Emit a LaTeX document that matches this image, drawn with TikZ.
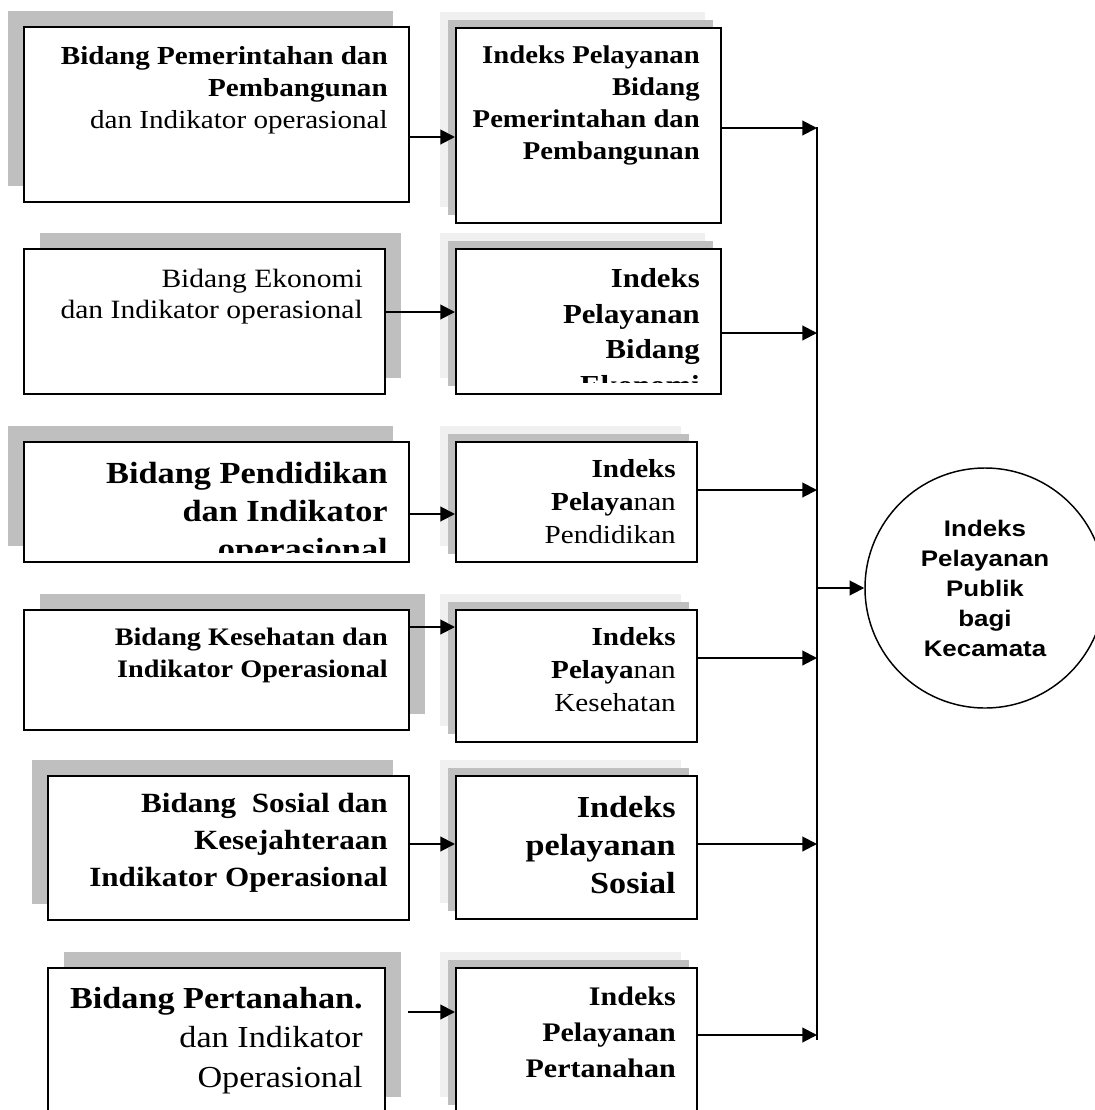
\documentclass[tikz,border=0pt]{standalone}
\usepackage{fontspec}
\setmainfont{Liberation Serif}[FakeStretch=1.12]
\newfontfamily\serifst{Liberation Serif}[FakeStretch=1.12]
\newfontfamily\circfont{Liberation Sans}[FakeStretch=1.15]
\usetikzlibrary{arrows.meta,fit}
\definecolor{shdark}{RGB}{191,191,191}
\definecolor{shlight}{RGB}{240,240,240}
\tikzset{
  box/.style={draw, fill=white, line width=1.5pt, inner sep=0pt, rectangle},
  lt/.style={inner sep=0pt, anchor=base east},
  arr/.style={line width=1.5pt, -{Triangle[length=11pt,width=11pt]}},
  busline/.style={line width=1.5pt},
}
\newcommand{\fsz}[2]{\serifst\fontsize{#1}{#2}\selectfont}
\newcommand{\rlines}[1]{\begin{tabular}[b]{@{}r@{}}#1\end{tabular}}
\begin{document}
\begin{tikzpicture}[x=0.75pt,y=-0.75pt]
\useasboundingbox (0,0) rectangle (1095,1110);
\clip (0,0) rectangle (1095,1110);
% ---------- shadows ----------
\fill[shdark] (8,11) rectangle (393,186);
\fill[shlight] (440,12) rectangle (705,207);
\fill[shdark] (448,20) rectangle (713,215);

\fill[shdark] (40,233) rectangle (401,378);
\fill[shlight] (440,233) rectangle (705,378);
\fill[shdark] (448,241) rectangle (713,386);

\fill[shdark] (8,426) rectangle (393,546);
\fill[shlight] (440,426) rectangle (681,546);
\fill[shdark] (448,434) rectangle (689,554);

\fill[shdark] (40,594) rectangle (425,714);
\fill[shlight] (440,594) rectangle (681,726);
\fill[shdark] (448,602) rectangle (689,734);

\fill[shdark] (32,760) rectangle (393,904);
\fill[shlight] (440,760) rectangle (681,903);
\fill[shdark] (448,768) rectangle (689,911);

\fill[shdark] (64,952) rectangle (401,1097);
\fill[shlight] (440,952) rectangle (681,1097);
\fill[shdark] (448,960) rectangle (689,1105);
% ---------- boxes ----------
\node[box, fit={(24,27) (409,202)}] (l1) {};
\node[box, fit={(456,28) (721,223)}] (r1) {};
\node[box, fit={(24,249) (385,394)}] (l2) {};
\node[box, fit={(456,249) (721,394)}] (r2) {};
\node[box, fit={(24,442) (409,562)}] (l3) {};
\node[box, fit={(456,442) (697,562)}] (r3) {};
\node[box, fit={(24,610) (409,730)}] (l4) {};
\node[box, fit={(456,610) (697,742)}] (r4) {};
\node[box, fit={(48,776) (409,920)}] (l5) {};
\node[box, fit={(456,776) (697,919)}] (r5) {};
\node[box, fit={(48,968) (385,1113)}] (l6) {};
\node[box, fit={(456,968) (697,1113)}] (r6) {};
% ---------- texts (anchored at the baseline of the last line) ----------
\node[lt, font=\fsz{19.5pt}{24pt}] (tl1) at (388,128)
  {\rlines{\textbf{Bidang Pemerintahan dan}\\\textbf{Pembangunan}\\dan Indikator operasional}};
\node[lt, font=\fsz{19.2pt}{24pt}] (tr1) at (700,159)
  {\rlines{\textbf{Indeks Pelayanan}\\\textbf{Bidang}\\\textbf{Pemerintahan dan}\\\textbf{Pembangunan}}};
\node[lt, font=\fsz{19.8pt}{23.25pt}] (tl2) at (363,318)
  {\rlines{Bidang Ekonomi\\dan Indikator operasional}};
\begin{scope}
\clip (456,249) rectangle (721,382);
\node[lt, font=\fsz{20.6pt}{26.6pt}] (tr2) at (700,394)
  {\rlines{\textbf{Indeks}\\\textbf{Pelayanan}\\\textbf{Bidang}\\\textbf{Ekonomi}}};
\end{scope}
\begin{scope}
\clip (24,442) rectangle (409,552);
\node[lt, font=\fsz{23pt}{28.5pt}] (tl3) at (388,559)
  {\rlines{\textbf{Bidang Pendidikan}\\\textbf{dan Indikator}\\\textbf{operasional}}};
\end{scope}
\node[lt, font=\fsz{19.5pt}{24.4pt}] (tr3) at (676,543)
  {\rlines{\textbf{Indeks}\\\textbf{Pelaya}nan\\Pendidikan}};
\node[lt, font=\fsz{18.9pt}{24pt}] (tl4) at (388,677)
  {\rlines{\textbf{Bidang Kesehatan dan}\\\textbf{Indikator Operasional}}};
\node[lt, font=\fsz{19.5pt}{24.4pt}] (tr4) at (676,711)
  {\rlines{\textbf{Indeks}\\\textbf{Pelaya}nan\\Kesehatan}};
\node[lt, font=\fsz{20.85pt}{27.4pt}] (tl5) at (388,886)
  {\rlines{\textbf{Bidang\ \ Sosial dan}\\\textbf{Kesejahteraan}\\\textbf{Indikator Operasional}}};
\node[lt, font=\fsz{22.9pt}{28.5pt}] (tr5) at (676,893)
  {\rlines{\textbf{Indeks}\\\textbf{pelayanan}\\\textbf{Sosial}}};
\node[lt, font=\fsz{22.9pt}{29.6pt}] (tl6) at (363,1087)
  {\rlines{\textbf{Bidang Pertanahan.}\\dan Indikator\\Operasional}};
\node[lt, font=\fsz{20.1pt}{27pt}] (tr6) at (676,1077)
  {\rlines{\textbf{Indeks}\\\textbf{Pelayanan}\\\textbf{Pertanahan}}};
% ---------- circle ----------
\node[draw, circle, line width=1.1pt, minimum size=180pt, inner sep=0pt, align=center,
      font=\circfont\bfseries\fontsize{16.9pt}{22.5pt}\selectfont] (circ) at (985,588)
  {Indeks\\Pelayanan\\Publik\\bagi\\Kecamata};
% ---------- bus ----------
\coordinate (btop) at (817,127);
\coordinate (bbot) at (817,1040);
\coordinate (b1) at (817,128);
\coordinate (b2) at (817,333);
\coordinate (b3) at (817,490);
\coordinate (b4) at (817,658);
\coordinate (b5) at (817,844);
\coordinate (b6) at (817,1035);
\coordinate (bm) at (817,588);
\coordinate (s6) at (408,1012);
\draw[busline] (btop) -- (bbot);
% ---------- arrows ----------
\draw[arr] (l1.east |- 0,137) -- (r1.west |- 0,137);
\draw[arr] (l2.east |- 0,312) -- (r2.west |- 0,312);
\draw[arr] (l3.east |- 0,514) -- (r3.west |- 0,514);
\draw[arr] (l4.east |- 0,627) -- (r4.west |- 0,627);
\draw[arr] (l5.east |- 0,844) -- (r5.west |- 0,844);
\draw[arr] (s6) -- (r6.west |- s6);
\draw[arr] (r1.east |- b1) -- (b1);
\draw[arr] (r2.east |- b2) -- (b2);
\draw[arr] (r3.east |- b3) -- (b3);
\draw[arr] (r4.east |- b4) -- (b4);
\draw[arr] (r5.east |- b5) -- (b5);
\draw[arr] (r6.east |- b6) -- (b6);
\draw[arr] (bm) -- (circ.west);
\end{tikzpicture}
\end{document}
